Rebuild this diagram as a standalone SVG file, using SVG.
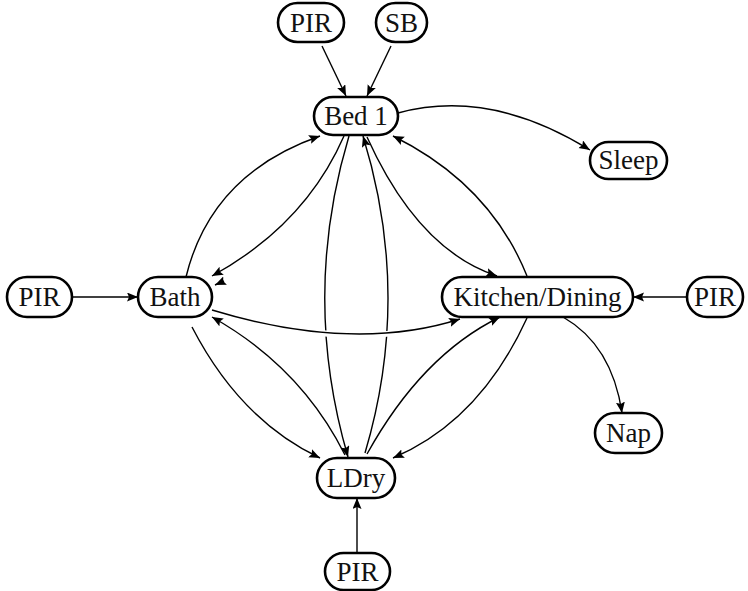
<svg xmlns="http://www.w3.org/2000/svg" width="748" height="591" viewBox="0 0 748 591">
<style>
.n rect{fill:#fff;stroke:#000;stroke-width:2.6}
.n text{font-family:"Liberation Serif","DejaVu Serif",serif;font-size:27px;text-anchor:middle;fill:#111}
.e path{fill:none;stroke:#000;stroke-width:1.4;marker-end:url(#ah)}
.e path.halo{stroke:#fff;stroke-width:6;marker-end:none}
</style>
<defs>
<marker id="ah" markerUnits="userSpaceOnUse" markerWidth="12" markerHeight="10" refX="11" refY="4.5" orient="auto">
<path d="M0,0 L11,4.5 L0,9 L2,4.5 z" fill="#000"/>
</marker>
</defs>
<rect width="748" height="591" fill="#fff"/>
<g id="edges" class="e">
<path d="M322,46 L346,96"/>
<path d="M391,46 L367,96"/>
<path d="M398,113 Q490,88 590,150"/>
<path d="M186,277 Q211,174 320,136"/>
<path d="M344,136 Q305,225 212,276"/>
<path d="M224,281 L215,285"/>
<path d="M349,136 Q301,296 348,457"/>
<path d="M365,453 Q412,295 363,136"/>
<path d="M367,137 Q418,250 497,276"/>
<path d="M527,276 Q490,184 393,136"/>
<path d="M192,327 Q240,420 320,458"/>
<path d="M345,455 Q301,367 212,317"/>
<path d="M367,454 Q422,355 500,317"/>
<path d="M527,318 Q480,421 393,458"/>
<path class="halo" d="M220,312 Q354,353 452,321"/>
<path d="M212,310 Q354,353 460,319"/>
<path d="M563,317 Q612,345 622,413"/>
<path d="M72,297 L138,297"/>
<path d="M687,297 L633,297"/>
<path d="M357,553 L357,498"/>
</g>
<g id="pir_top" class="n"><rect x="278" y="3" width="66" height="39" rx="19.5"/><text x="311" y="32">PIR</text></g>
<g id="sb" class="n"><rect x="376" y="3" width="51" height="39" rx="19.5"/><text x="401.5" y="32">SB</text></g>
<g id="bed1" class="n"><rect x="314" y="97" width="84" height="38" rx="19"/><text x="356" y="125">Bed 1</text></g>
<g id="sleep" class="n"><rect x="590" y="142" width="77" height="37" rx="18.5"/><text x="628.5" y="169">Sleep</text></g>
<g id="pir_left" class="n"><rect x="7" y="277" width="65" height="40" rx="20"/><text x="39.5" y="306">PIR</text></g>
<g id="bath" class="n"><rect x="138" y="277" width="74" height="40" rx="20"/><text x="175" y="306">Bath</text></g>
<g id="kitchen" class="n"><rect x="442" y="277" width="191" height="40" rx="20"/><text x="537.5" y="306">Kitchen/Dining</text></g>
<g id="pir_right" class="n"><rect x="687" y="277" width="56" height="40" rx="20"/><text x="715" y="306">PIR</text></g>
<g id="nap" class="n"><rect x="595" y="413" width="67" height="40" rx="20"/><text x="628.5" y="442">Nap</text></g>
<g id="ldry" class="n"><rect x="317" y="458" width="78" height="40" rx="20"/><text x="356" y="487">LDry</text></g>
<g id="pir_bottom" class="n"><rect x="325" y="553" width="65" height="37" rx="18.5"/><text x="357.5" y="581">PIR</text></g>
</svg>
